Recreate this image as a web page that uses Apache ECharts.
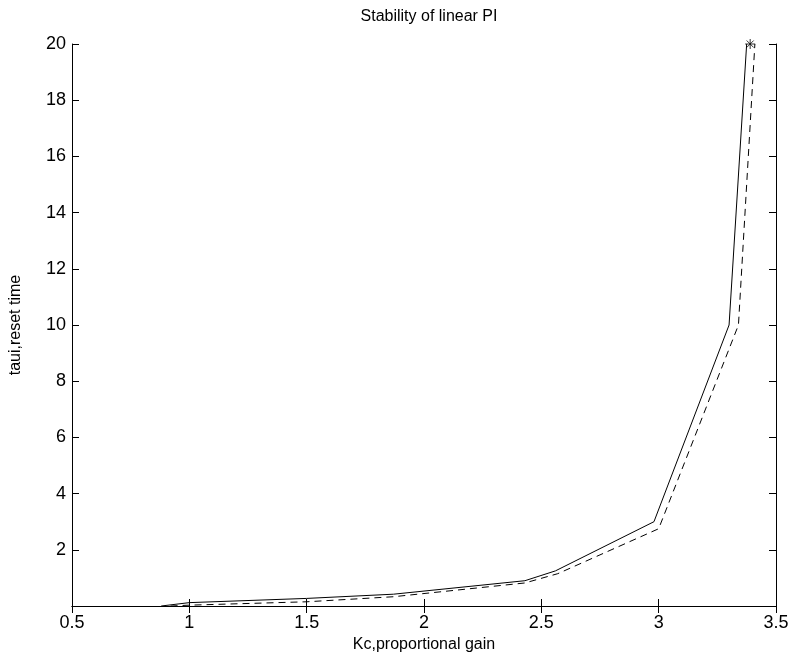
<!DOCTYPE html>
<html><head><meta charset="utf-8">
<script src="https://cdn.jsdelivr.net/npm/echarts@6/dist/echarts.min.js"></script>
<style>html,body{margin:0;padding:0;background:#fff}#c{width:793px;height:667px}</style>
</head><body><div id="c"></div>
<script>
var solidKc   = [0.88, 1.0, 1.5, 1.87, 2.43, 2.56, 2.98, 3.30, 3.375];
var solidTau  = [0.0, 0.12, 0.27, 0.42, 0.90, 1.25, 3.0, 10, 20];
var dashedKc  = [0.92, 1.0, 1.5, 1.87, 2.43, 2.57, 3.0, 3.34, 3.41];
var dashedTau = [0.0, 0.03, 0.15, 0.33, 0.82, 1.15, 2.75, 10, 20];
var starPoint = [3.39, 20];
var xTicks = {min: 0.5, max: 3.5, interval: 0.5};
var yTicks = {min: 0, max: 20, interval: 2};

function pairs(a, b) { return a.map(function (v, i) { return [v, b[i]]; }); }
var font = 'Liberation Sans, Arial, sans-serif';
var axLine = {show: true, lineStyle: {color: '#000', width: 1}};
var tick = {show: true, inside: true, length: 7, lineStyle: {color: '#000', width: 1}};

var chart = echarts.init(document.getElementById('c'));
chart.setOption({
  animation: false,
  title: {text: 'Stability of linear PI', left: 424, top: 4, textAlign: 'center',
    textStyle: {fontFamily: font, fontSize: 16, fontWeight: 'normal', color: '#000'}},
  grid: {left: 72, top: 44, right: 17, bottom: 61},
  xAxis: [
    {type: 'value', min: xTicks.min, max: xTicks.max, interval: xTicks.interval,
     name: 'Kc,proportional gain', nameLocation: 'middle', nameGap: 31,
     nameTextStyle: {fontFamily: font, fontSize: 16, color: '#000'},
     axisLine: axLine, axisTick: tick, splitLine: {show: false},
     axisLabel: {fontFamily: font, fontSize: 18, color: '#000', margin: 8}},
    {type: 'value', position: 'top', min: xTicks.min, max: xTicks.max, interval: xTicks.interval,
     axisLine: axLine, axisTick: tick, splitLine: {show: false}, axisLabel: {show: false}}
  ],
  yAxis: [
    {type: 'value', min: yTicks.min, max: yTicks.max, interval: yTicks.interval,
     name: 'taui,reset time', nameLocation: 'middle', nameGap: 48,
     nameTextStyle: {fontFamily: font, fontSize: 16, color: '#000'},
     axisLine: axLine, axisTick: tick, splitLine: {show: false},
     axisLabel: {fontFamily: font, fontSize: 18, color: '#000', margin: 6, showMinLabel: false}},
    {type: 'value', position: 'right', min: yTicks.min, max: yTicks.max, interval: yTicks.interval,
     axisLine: axLine, axisTick: tick, splitLine: {show: false}, axisLabel: {show: false}}
  ],
  series: [
    {type: 'line', data: pairs(solidKc, solidTau), symbol: 'none',
     lineStyle: {color: '#000', width: 1}},
    {type: 'line', data: pairs(dashedKc, dashedTau), symbol: 'none',
     lineStyle: {color: '#000', width: 1, type: [7, 5]}},
    {type: 'scatter', data: [starPoint], symbolSize: 10,
     symbol: 'path://M0,-1L0,1M-1,0L1,0M-0.7,-0.7L0.7,0.7M-0.7,0.7L0.7,-0.7',
     itemStyle: {color: 'none', borderColor: '#000', borderWidth: 1}}
  ]
});
</script></body></html>
